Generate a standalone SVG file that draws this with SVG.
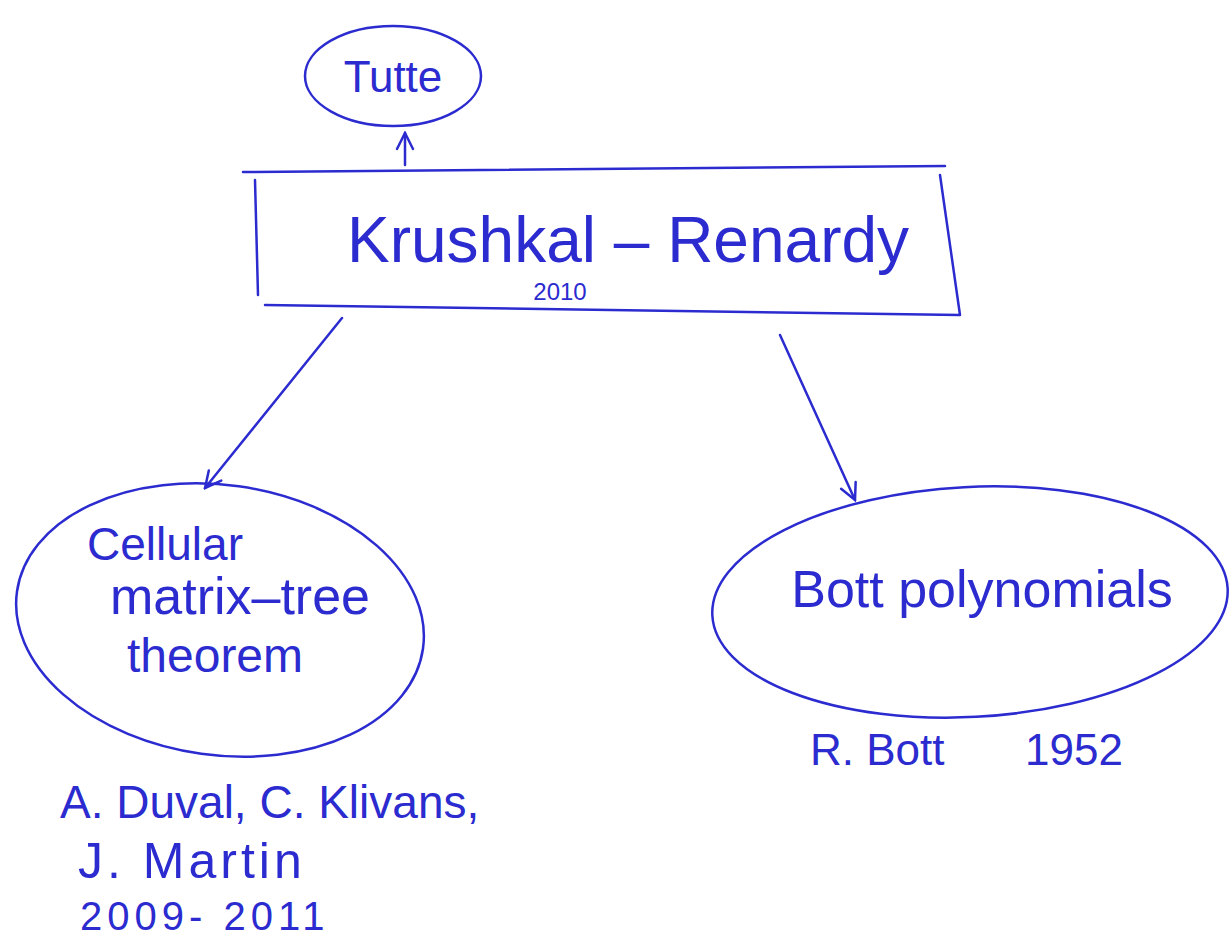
<svg xmlns="http://www.w3.org/2000/svg" width="1229" height="945" viewBox="0 0 1229 945">
<style>
.s{fill:none;stroke:#2b2bd0;stroke-width:2.5;stroke-linecap:round;stroke-linejoin:round}
.t{fill:#2b2bd0;font-family:"Liberation Sans","DejaVu Sans",sans-serif}
</style>
<defs>
<marker id="ah" viewBox="0 0 20 20" refX="18" refY="10" markerWidth="20" markerHeight="20" markerUnits="userSpaceOnUse" orient="auto">
<path d="M2,2 L18,10 L2,18" fill="none" stroke="#2b2bd0" stroke-width="2.5" stroke-linecap="round"/>
</marker>
</defs>
<rect width="1229" height="945" fill="#ffffff"/>
<g id="connectors">
<path class="s" d="M405,165 L405,133" marker-end="url(#ah)"/>
<path class="s" d="M342,318 L205,488" marker-end="url(#ah)"/>
<path class="s" d="M780,335 L855,500" marker-end="url(#ah)"/>
</g>
<g id="tutte">
<ellipse class="s" cx="393" cy="76" rx="88" ry="50"/>
<text class="t" x="393" y="92" font-size="44" text-anchor="middle">Tutte</text>
</g>
<g id="krushkal">
<path class="s" d="M243,172 L945,166 M265,305 L960,315 M255,180 L258,295 M940,175 L960,315"/>
<text class="t" x="628" y="262" font-size="64" text-anchor="middle">Krushkal – Renardy</text>
<text class="t" x="560" y="300" font-size="24" text-anchor="middle">2010</text>
</g>
<g id="cellular">
<ellipse class="s" cx="220" cy="620" rx="205" ry="135" transform="rotate(8 220 620)"/>
<text class="t" x="165" y="560" font-size="46" text-anchor="middle">Cellular</text>
<text class="t" x="240" y="614" font-size="52" text-anchor="middle">matrix–tree</text>
<text class="t" x="215" y="672" font-size="48" text-anchor="middle">theorem</text>
</g>
<g id="bott">
<ellipse class="s" cx="970" cy="602" rx="258" ry="115" transform="rotate(-3 970 602)"/>
<text class="t" x="982" y="607" font-size="52" text-anchor="middle">Bott polynomials</text>
</g>
<g id="labels">
<text class="t" x="810" y="765" font-size="44">R. Bott</text>
<text class="t" x="1025" y="765" font-size="44">1952</text>
<text class="t" x="60" y="818" font-size="46">A. Duval, C. Klivans,</text>
<text class="t" x="78" y="878" font-size="50" letter-spacing="4">J. Martin</text>
<text class="t" x="80" y="930" font-size="40" letter-spacing="5">2009- 2011</text>
</g>
</svg>
